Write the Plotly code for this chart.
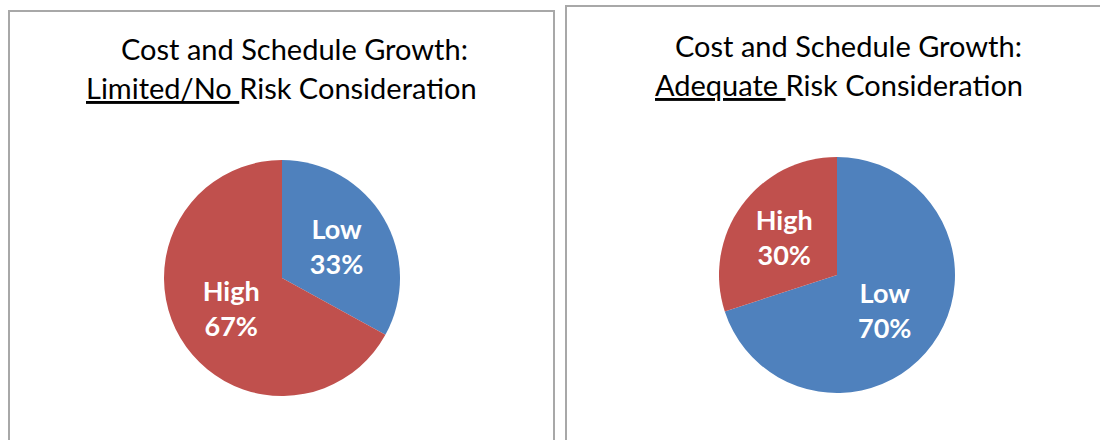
import plotly.graph_objects as go

# Data
categories = ["Low", "High"]
limited_values = [33, 67]
adequate_values = [70, 30]
slice_colors = ["#4F81BD", "#C0504D"]

title_line1 = "Cost and Schedule Growth:"
left_title_u = "Limited/No "
right_title_u = "Adequate "
title_rest = "Risk Consideration"

W, H = 1100, 440

def px(x):
    return x / W

def py(y):
    return 1 - y / H

fig = go.Figure()

common = dict(
    labels=categories,
    sort=False,
    direction="clockwise",
    rotation=0,
    marker=dict(colors=slice_colors, line=dict(width=0)),
    texttemplate="%{label}<br>%{percent:.0%}",
    textposition="inside",
    insidetextorientation="horizontal",
    textfont=dict(family="Lato", size=27, color="white", weight="bold"),
    showlegend=False,
    hoverinfo="label+percent",
)

fig.add_trace(go.Pie(
    values=limited_values,
    domain=dict(x=[px(164), px(400)], y=[py(396), py(160)]),
    **common,
))
fig.add_trace(go.Pie(
    values=adequate_values,
    domain=dict(x=[px(719), px(955)], y=[py(393), py(157)]),
    **common,
))

border = "#A8A8A8"
fig.add_shape(type="rect", xref="paper", yref="paper",
              x0=px(9), x1=px(554), y0=-0.1, y1=py(11),
              line=dict(color=border, width=2), fillcolor="rgba(0,0,0,0)", layer="below")
fig.add_shape(type="rect", xref="paper", yref="paper",
              x0=px(566), x1=1.1, y0=-0.1, y1=py(6),
              line=dict(color=border, width=2), fillcolor="rgba(0,0,0,0)", layer="below")

tfont = dict(family="Lato", size=29, color="#000000")
annots = [
    (294, 49, title_line1),
    (281, 88, "<u>" + left_title_u + "</u>" + title_rest),
    (848, 46, title_line1),
    (839, 85, "<u>" + right_title_u + "</u>" + title_rest),
]
for x, y, t in annots:
    fig.add_annotation(x=px(x), y=py(y), xref="paper", yref="paper",
                       text=t, showarrow=False, xanchor="center", yanchor="middle",
                       font=tfont)

fig.update_layout(
    width=W, height=H,
    margin=dict(l=0, r=0, t=0, b=0),
    paper_bgcolor="white",
    plot_bgcolor="white",
)

fig.write_html("out.html")
